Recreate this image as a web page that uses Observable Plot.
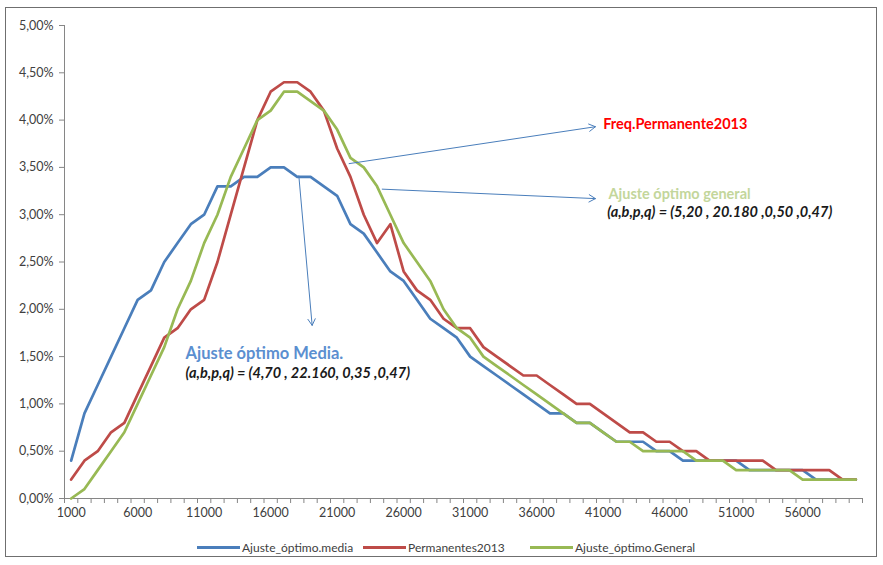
<!DOCTYPE html>
<html>
<head>
<meta charset="utf-8">
<script src="https://cdn.jsdelivr.net/npm/d3@7"></script>
<script src="https://cdn.jsdelivr.net/npm/@observablehq/plot@0.6"></script>
<style>
  body { margin: 0; background: #fff; }
  #wrap { position: relative; width: 883px; height: 565px; font-family: Lato, "Open Sans", sans-serif; overflow: hidden; }
  #frame { position: absolute; left: 5px; top: 7px; width: 872px; height: 550px; border: 1px solid #6f6f6f; box-sizing: border-box; pointer-events: none; }
  #legend { position: relative; height: 30px; font-size: 12px; color: #404040; }
  .item { position: absolute; top: 0; height: 24px; display: flex; align-items: center; white-space: nowrap; }
  .sw { display: inline-block; width: 43px; height: 3px; margin-right: 2px; }
  svg { display: block; }
</style>
</head>
<body>
<div id="wrap">
  <div id="chart"></div>
  <div id="legend"></div>
  <div id="frame"></div>
</div>
<script>
// Categories (income, x axis)
const categories = [1000,2000,3000,4000,5000,6000,7000,8000,9000,10000,
  11000,12000,13000,14000,15000,16000,17000,18000,19000,20000,
  21000,22000,23000,24000,25000,26000,27000,28000,29000,30000,
  31000,32000,33000,34000,35000,36000,37000,38000,39000,40000,
  41000,42000,43000,44000,45000,46000,47000,48000,49000,50000,
  51000,52000,53000,54000,55000,56000,57000,58000,59000,60000];

// Series values (percent)
const ajusteMedia = [0.4,0.9,1.2,1.5,1.8,2.1,2.2,2.5,2.7,2.9,
  3.0,3.3,3.3,3.4,3.4,3.5,3.5,3.4,3.4,3.3,
  3.2,2.9,2.8,2.6,2.4,2.3,2.1,1.9,1.8,1.7,
  1.5,1.4,1.3,1.2,1.1,1.0,0.9,0.9,0.8,0.8,
  0.7,0.6,0.6,0.6,0.5,0.5,0.4,0.4,0.4,0.4,
  0.4,0.3,0.3,0.3,0.3,0.3,0.2,0.2,0.2,0.2];
const permanentes2013 = [0.2,0.4,0.5,0.7,0.8,1.1,1.4,1.7,1.8,2.0,
  2.1,2.5,3.0,3.5,4.0,4.3,4.4,4.4,4.3,4.1,
  3.7,3.4,3.0,2.7,2.9,2.4,2.2,2.1,1.9,1.8,
  1.8,1.6,1.5,1.4,1.3,1.3,1.2,1.1,1.0,1.0,
  0.9,0.8,0.7,0.7,0.6,0.6,0.5,0.5,0.4,0.4,
  0.4,0.4,0.4,0.3,0.3,0.3,0.3,0.3,0.2,0.2];
const ajusteGeneral = [0.0,0.1,0.3,0.5,0.7,1.0,1.3,1.6,2.0,2.3,
  2.7,3.0,3.4,3.7,4.0,4.1,4.3,4.3,4.2,4.1,
  3.9,3.6,3.5,3.3,3.0,2.7,2.5,2.3,2.0,1.8,
  1.7,1.5,1.4,1.3,1.2,1.1,1.0,0.9,0.8,0.8,
  0.7,0.6,0.6,0.5,0.5,0.5,0.5,0.4,0.4,0.4,
  0.3,0.3,0.3,0.3,0.3,0.2,0.2,0.2,0.2,0.2];

const seriesNames = ["Ajuste_óptimo.media", "Permanentes2013", "Ajuste_óptimo.General"];
const seriesColors = ["#4a7ebb", "#be4b48", "#98b954"];

// Tick labels
const xTickLabels = [1000,6000,11000,16000,21000,26000,31000,36000,41000,46000,51000,56000];
const yTicks = [0,0.5,1,1.5,2,2.5,3,3.5,4,4.5,5];

// Annotations (data units)
const arrowX1 = [21900, 24390, 18120];
const arrowY1 = [3.54, 3.27, 3.41];
const arrowX2 = [40420, 40420, 19120];
const arrowY2 = [3.93, 3.17, 1.83];
const titleText = ["Freq.Permanente2013", "Ajuste óptimo general", "Ajuste óptimo Media."];
const titleX = [41000, 41400, 9600];
const titleY = [3.95, 3.22, 1.53];
const titleColor = ["#ff0000", "#c3d69b", "#5b8fd0"];
const titleSize = [14.5, 14.5, 16.5];
const paramText = ["(a,b,p,q) = (5,20 , 20.180 ,0,50 ,0,47)", "(a,b,p,q) = (4,70 , 22.160, 0,35 ,0,47)"];
const paramX = [41300, 9600];
const paramY = [3.03, 1.32];

// Build tables
const allSeries = [ajusteMedia, permanentes2013, ajusteGeneral];
const rows = [];
allSeries.forEach((vals, s) => vals.forEach((v, i) => rows.push({x: categories[i], y: v, s: seriesNames[s]})));
const boundaries = [categories[0] - 500, ...categories.map(c => c + 500)];
const arrows = arrowX1.map((d, i) => ({x1: d, y1: arrowY1[i], x2: arrowX2[i], y2: arrowY2[i]}));
const titles = titleText.map((t, i) => ({t, x: titleX[i], y: titleY[i], c: titleColor[i], fs: titleSize[i]}));
const params = paramText.map((t, i) => ({t, x: paramX[i], y: paramY[i]}));
const xMin = boundaries[0], xMax = boundaries[boundaries.length - 1];

const fmtPct = d => d.toFixed(2).replace(".", ",") + "%";

const plot = Plot.plot({
  width: 883,
  height: 535,
  marginLeft: 64,
  marginRight: 21,
  marginTop: 25,
  marginBottom: 37,
  style: {fontFamily: "Lato, 'Open Sans', sans-serif", fontSize: "12.5px", color: "#404040", background: "white"},
  x: {domain: [xMin, xMax], label: null},
  y: {domain: [0, 5], label: null},
  marks: [
    Plot.axisY({ticks: yTicks, tickSize: 5, tickPadding: 6, tickFormat: fmtPct, stroke: "#868686", fill: "#404040", label: null}),
    Plot.axisX({ticks: boundaries, tickSize: 5, tickFormat: () => "", stroke: "#868686", label: null}),
    Plot.axisX({ticks: xTickLabels, tickSize: 0, tickPadding: 10, tickFormat: d => String(d), fill: "#404040", label: null}),
    Plot.ruleY([0], {stroke: "#868686"}),
    Plot.ruleX([xMin], {stroke: "#868686"}),
    ...seriesNames.map((name, k) => Plot.line(rows.filter(r => r.s === name), {
      x: "x", y: "y", stroke: seriesColors[k], strokeWidth: 2.7, strokeLinejoin: "round"
    })),
    Plot.arrow(arrows, {x1: "x1", y1: "y1", x2: "x2", y2: "y2", stroke: "#4a7ebb", strokeWidth: 1, headLength: 11, bend: 0}),
    ...titles.map(d => Plot.text([d], {x: "x", y: "y", text: "t", fill: d.c, textAnchor: "start",
      fontWeight: "bold", fontSize: d.fs})),
    Plot.text(params, {x: "x", y: "y", text: "t", fill: "#1a1a1a", textAnchor: "start",
      fontWeight: "bold", fontStyle: "italic", fontSize: 14.5})
  ]
});
document.getElementById("chart").appendChild(plot);

const legendLeft = [197, 363, 530];
const legend = document.getElementById("legend");
seriesNames.forEach((n, k) => {
  const it = document.createElement("div");
  it.className = "item";
  it.style.left = legendLeft[k] + "px";
  const sw = document.createElement("span");
  sw.className = "sw";
  sw.style.background = seriesColors[k];
  const tx = document.createElement("span");
  tx.textContent = n;
  it.appendChild(sw); it.appendChild(tx);
  legend.appendChild(it);
});
</script>
</body>
</html>
